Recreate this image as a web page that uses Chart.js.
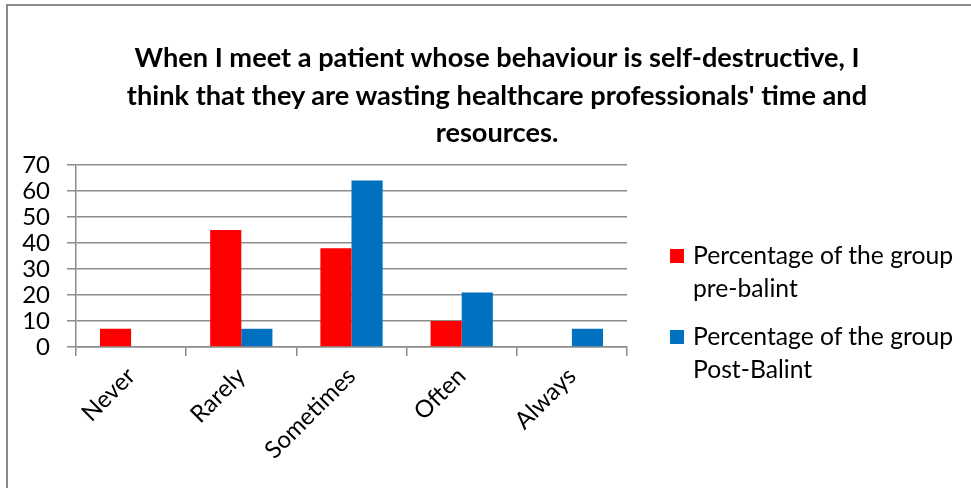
<!DOCTYPE html>
<html>
<head>
<meta charset="utf-8">
<script src="https://cdn.jsdelivr.net/npm/chart.js@4"></script>
<style>
  html,body{margin:0;padding:0;background:#fff;overflow:hidden;}
  #wrap{position:relative;width:971px;height:488px;}
  #frame{position:absolute;left:6px;top:4px;width:1000px;height:520px;border:2px solid #8a8a8a;box-sizing:border-box;}
  #title{position:absolute;left:0;width:994px;top:38px;text-align:center;font:bold 27.2px Lato,sans-serif;line-height:37.5px;color:#000;}
  #legend{position:absolute;left:670px;top:238px;font:24.7px Lato,sans-serif;color:#000;}
  .li{position:relative;padding-left:23px;width:274px;line-height:33px;margin-bottom:15px;}
  .sw{position:absolute;left:0;top:11px;width:14px;height:14px;}
  canvas{position:absolute;left:0;top:0;}
</style>
</head>
<body>
<div id="wrap">
  <div id="frame"></div>
  <canvas id="c" width="971" height="488"></canvas>
  <div id="title">When I meet a patient whose behaviour is self-destructive, I<br>think that they are wasting healthcare professionals' time and<br>resources.</div>
  <div id="legend"></div>
</div>
<script>
const categories=['Never','Rarely','Sometimes','Often','Always'];
const preBalint=[7,45,38,10,0];
const postBalint=[0,7,64,21,7];
const seriesNames=['Percentage of the group pre-balint','Percentage of the group Post-Balint'];
const yTicks=[0,10,20,30,40,50,60,70];
const colors=['#ff0000','#0070c0'];

const gridCol='#8c8c8c';
const chart=new Chart(document.getElementById('c').getContext('2d'),{
  type:'bar',
  data:{labels:categories,datasets:[
    {label:seriesNames[0],data:preBalint,backgroundColor:colors[0],borderWidth:0},
    {label:seriesNames[1],data:postBalint,backgroundColor:colors[1],borderWidth:0}
  ]},
  options:{
    responsive:false,animation:false,
    categoryPercentage:0.565,barPercentage:1,
    layout:{padding:{top:165,left:0,right:344,bottom:0}},
    plugins:{legend:{display:false},tooltip:{enabled:false},title:{display:false}},
    scales:{
      x:{
        afterFit:s=>{s.height=141;},
        grid:{offset:true,drawOnChartArea:false,drawTicks:true,tickLength:9,color:gridCol,lineWidth:1.5},
        border:{color:gridCol,width:1.5},
        ticks:{color:'#000',font:{family:'Lato',size:24},minRotation:45,maxRotation:45,padding:6,autoSkip:false}
      },
      y:{
        min:0,max:70,
        afterFit:s=>{s.width=76;},
        afterBuildTicks:s=>{s.ticks=yTicks.map(v=>({value:v}));},
        grid:{color:gridCol,lineWidth:1.5,tickLength:9},
        border:{color:gridCol,width:1.5},
        ticks:{color:'#000',font:{family:'Lato',size:24},padding:17,autoSkip:false}
      }
    }
  }
});

document.getElementById('legend').innerHTML=chart.data.datasets.map(d=>
  `<div class="li"><span class="sw" style="background:${d.backgroundColor}"></span>${d.label}</div>`).join('');
</script>
</body>
</html>
